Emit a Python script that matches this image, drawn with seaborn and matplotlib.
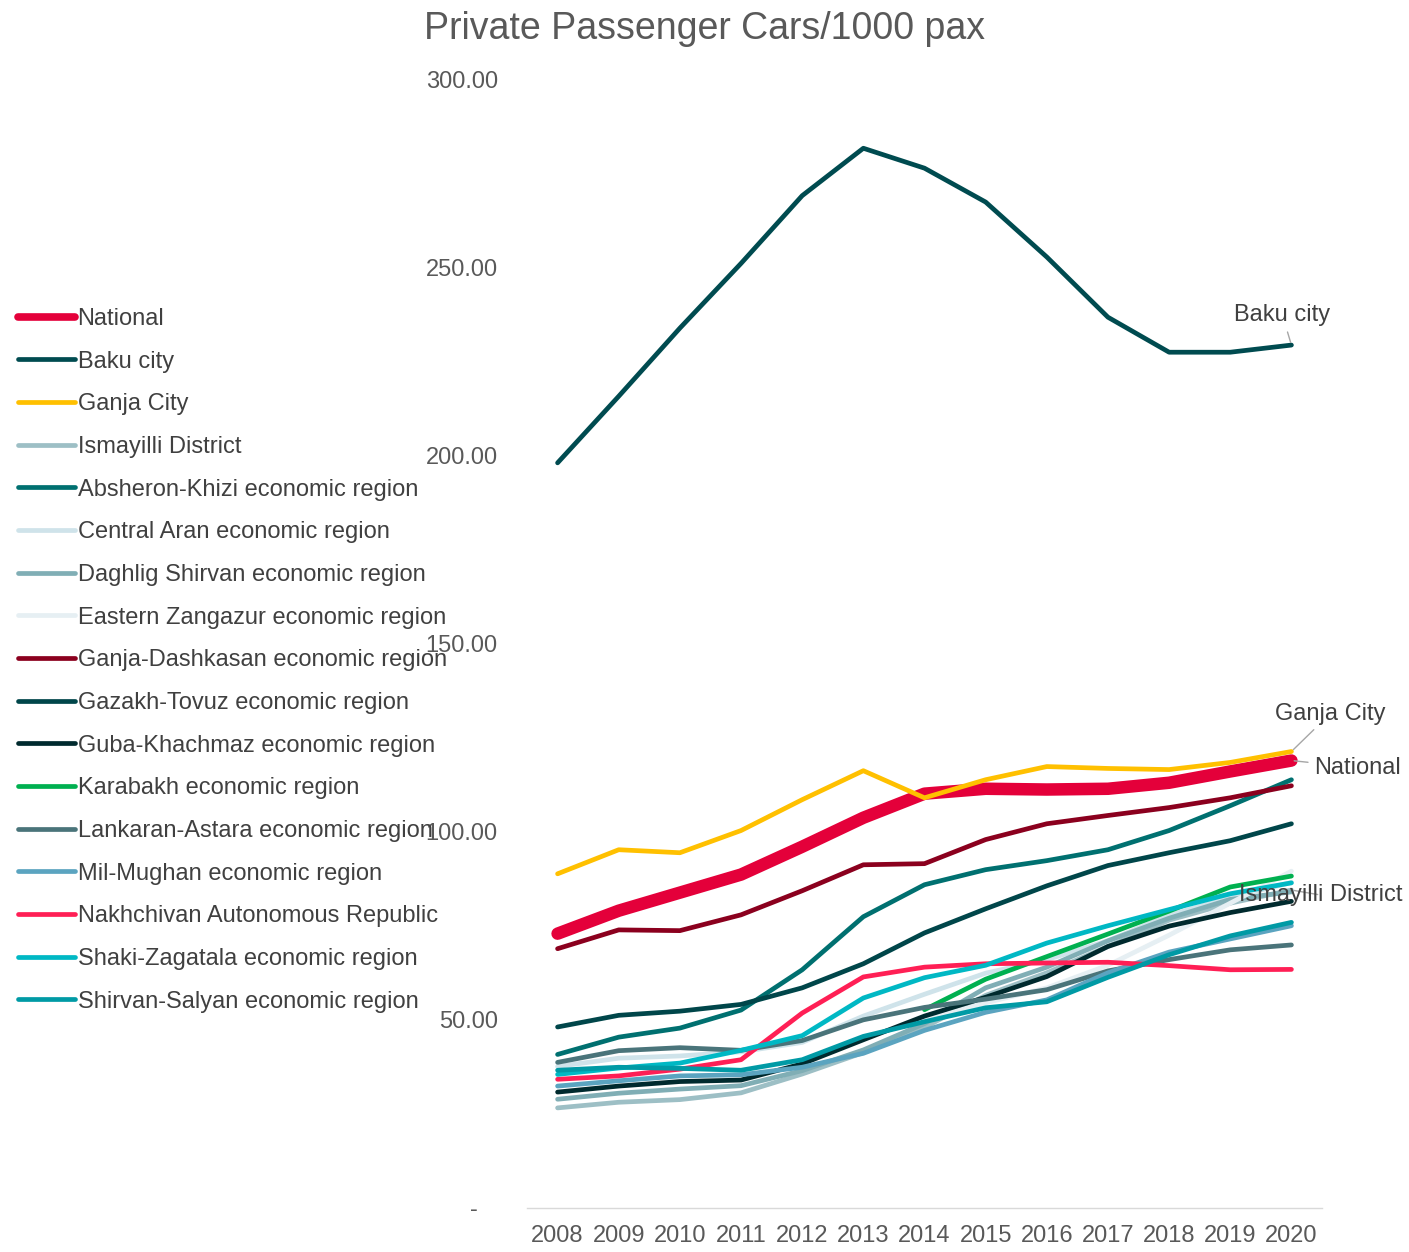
import numpy as np
import pandas as pd
import matplotlib
matplotlib.use("Agg")
import matplotlib.pyplot as plt
import seaborn as sns
from matplotlib.lines import Line2D

years = list(range(2008, 2021))
nan = np.nan

national = [72.9, 79.0, 83.8, 88.6, 96.0, 103.7, 110.1, 111.4, 111.2, 111.4, 113.0, 116.0, 118.9]
baku_city = [198.0, 215.7, 233.8, 251.0, 269.0, 281.6, 276.3, 267.3, 252.7, 236.7, 227.4, 227.4, 229.3]
ganja_city = [88.8, 95.2, 94.4, 100.3, 108.5, 116.2, 109.0, 113.8, 117.3, 116.8, 116.5, 118.4, 121.3]
ismayilli = [26.6, 28.1, 28.8, 30.6, 35.6, 41.3, 48.0, 56.5, 62.5, 69.5, 76.5, 81.0, 84.5]
absheron_khizi = [40.8, 45.4, 47.8, 52.6, 63.3, 77.4, 85.9, 89.9, 92.3, 95.2, 100.3, 106.9, 113.8]
central_aran = [37.6, 39.8, 40.4, 41.5, 44.0, 51.0, 56.8, 62.4, 66.0, 71.0, 77.8, 82.5, 86.5]
daghlig_shirvan = [28.9, 30.5, 31.6, 32.5, 36.5, 42.0, 49.0, 58.5, 64.0, 71.0, 77.0, 82.0, 84.0]
eastern_zangazur = [nan, nan, nan, nan, nan, nan, 50.0, 54.5, 58.5, 64.5, 72.5, 81.0, 89.5]
ganja_dashkasan = [68.9, 73.9, 73.7, 77.9, 84.3, 91.2, 91.5, 97.9, 102.1, 104.3, 106.4, 109.0, 112.2]
gazakh_tovuz = [48.1, 51.2, 52.3, 54.1, 58.5, 64.9, 73.1, 79.5, 85.6, 91.0, 94.4, 97.6, 102.1]
guba_khachmaz = [30.8, 32.4, 33.6, 34.0, 38.3, 44.7, 51.0, 56.0, 61.5, 69.5, 74.9, 78.5, 81.5]
karabakh = [nan, nan, nan, nan, nan, nan, 52.7, 60.8, 66.8, 72.8, 78.9, 85.3, 88.2]
lankaran_astara = [38.7, 41.8, 42.6, 41.9, 44.5, 50.0, 53.3, 55.5, 58.0, 63.0, 66.0, 68.6, 69.9]
mil_mughan = [32.4, 33.8, 35.1, 35.4, 37.4, 41.1, 47.2, 52.0, 55.3, 62.5, 68.0, 71.5, 75.0]
nakhchivan = [34.2, 35.1, 36.9, 39.4, 51.8, 61.4, 64.0, 64.9, 65.1, 65.3, 64.4, 63.3, 63.4]
shaki_zagatala = [35.5, 37.2, 38.5, 41.9, 45.8, 55.8, 61.2, 64.5, 70.4, 75.0, 79.3, 83.5, 86.4]
shirvan_salyan = [36.6, 37.4, 37.1, 36.6, 39.4, 45.6, 49.5, 53.2, 54.8, 61.3, 67.3, 72.3, 75.9]

series_names = [
    "National", "Baku city", "Ganja City", "Ismayilli District",
    "Absheron-Khizi economic region", "Central Aran economic region",
    "Daghlig Shirvan economic region", "Eastern Zangazur economic region",
    "Ganja-Dashkasan economic region", "Gazakh-Tovuz economic region",
    "Guba-Khachmaz economic region", "Karabakh economic region",
    "Lankaran-Astara economic region", "Mil-Mughan economic region",
    "Nakhchivan Autonomous Republic", "Shaki-Zagatala economic region",
    "Shirvan-Salyan economic region",
]
series_values = [
    national, baku_city, ganja_city, ismayilli, absheron_khizi, central_aran,
    daghlig_shirvan, eastern_zangazur, ganja_dashkasan, gazakh_tovuz,
    guba_khachmaz, karabakh, lankaran_astara, mil_mughan, nakhchivan,
    shaki_zagatala, shirvan_salyan,
]
series_colors = [
    "#E4003A", "#004B50", "#FFC000", "#9DBFC5", "#007070", "#CFE3EA",
    "#80AEB5", "#E6EFF3", "#8B001E", "#00464A", "#002A2E", "#00B050",
    "#4A747A", "#5BA4C0", "#FF1F55", "#00B8C4", "#009AA5",
]

ytick_values = [0, 50, 100, 150, 200, 250, 300]
ytick_labels = ["-   ", "50.00", "100.00", "150.00", "200.00", "250.00", "300.00"]

sns.set_theme(style="white")
plt.rcParams["font.family"] = ["Liberation Sans", "DejaVu Sans"]

W, H = 1409, 1252
fig = plt.figure(figsize=(W / 100, H / 100), dpi=100)
ax = fig.add_axes([527 / W, 1 - 1208 / H, (1322 - 527) / W, (1208 - 79) / H])

handles = []
for i, (name, vals, col) in enumerate(zip(series_names, series_values, series_colors)):
    df = pd.DataFrame({"year": years, "value": vals}).dropna()
    lw = 9.0 if name == "National" else 3.4
    sns.lineplot(data=df, x="year", y="value", color=col, linewidth=lw,
                 ax=ax, zorder=2 + i, solid_capstyle="round",
                 solid_joinstyle="round", legend=False)
    handles.append(Line2D([0], [0], color=col, lw=5.5 if name == "National" else 3.4,
                          solid_capstyle="round"))

ax.set_xlim(2007.5, 2020.5)
ax.set_ylim(0, 300)
ax.set_xticks(years)
ax.set_xticklabels([str(y) for y in years])
ax.set_yticks(ytick_values)
ax.set_yticklabels(ytick_labels)
ax.set_xlabel("")
ax.set_ylabel("")
ax.grid(False)
for s in ["top", "right", "left"]:
    ax.spines[s].set_visible(False)
ax.spines["bottom"].set_color("#D9D9D9")
ax.spines["bottom"].set_linewidth(1.0)
ax.tick_params(axis="both", length=0, labelsize=17, colors="#595959")
ax.tick_params(axis="y", pad=21)
ax.tick_params(axis="x", pad=12)

fig.text(0.5, 1 - 29 / H, "Private Passenger Cars/1000 pax", ha="center",
         va="center", fontsize=27, color="#595959")

leg = fig.legend(handles, series_names, loc="upper left",
                 bbox_to_anchor=(18 / W, 1 - 308 / H), frameon=False,
                 fontsize=17, handlelength=2.4, handletextpad=0.12,
                 labelspacing=0.875, borderpad=0, borderaxespad=0)
for t in leg.get_texts():
    t.set_color("#404040")

arrow = dict(arrowstyle="-", color="#A6A6A6", lw=1.0, shrinkA=2, shrinkB=2)
annots = [
    ("Baku city", baku_city[-1], (-9, 30)),
    ("Ganja City", ganja_city[-1], (39, 38)),
    ("National", national[-1], (66, -7)),
    ("Ismayilli District", ismayilli[-1], (29, -5)),
]
for label, yv, off in annots:
    ax.annotate(label, xy=(2020, yv), xytext=off, textcoords="offset pixels",
                ha="center", va="center", fontsize=17, color="#404040",
                arrowprops=arrow, zorder=30, annotation_clip=False)

fig.savefig("out.png", dpi=100)
